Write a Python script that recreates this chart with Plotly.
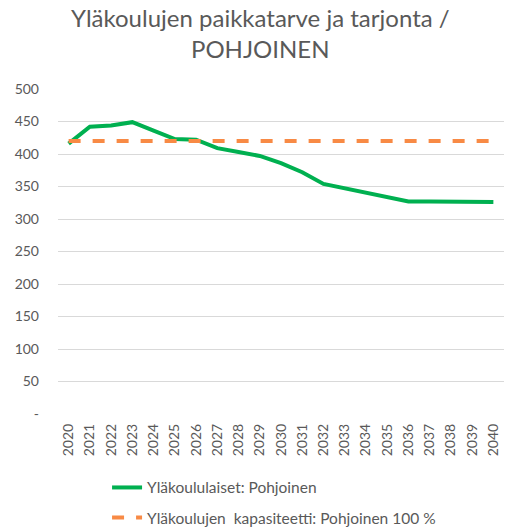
import plotly.graph_objects as go

years = [str(y) for y in range(2020, 2041)]
pupils = [416, 442, 444, 449, 436, 423, 422, 409, 403, 397, 386, 372, 354, 347, 341, 333, 327, 327, 327, 327, 326]
capacity = [420] * 21
y_ticks = [0, 50, 100, 150, 200, 250, 300, 350, 400, 450, 500]
y_tick_text = ["-", "50", "100", "150", "200", "250", "300", "350", "400", "450", "500"]
title_lines = ["Yläkoulujen paikkatarve ja tarjonta /", "POHJOINEN"]

FONT = "Lato"
GREY = "#595959"

fig = go.Figure()
fig.add_trace(go.Scatter(
    x=years, y=pupils, mode="lines", name="Yläkoululaiset: Pohjoinen",
    line=dict(color="#00B050", width=4), legendgroup="a"))
fig.add_trace(go.Scatter(
    x=years, y=capacity, mode="lines", name="Yläkoulujen  kapasiteetti: Pohjoinen 100 %",
    line=dict(color="#F88A45", width=4, dash="dash"), legendgroup="b"))

for line, ypos in zip(title_lines, [1.2185, 1.126]):
    fig.add_annotation(text=line, xref="paper", yref="paper", x=0.455, y=ypos,
                       xanchor="center", yanchor="middle", showarrow=False,
                       font=dict(size=24, color=GREY, family=FONT))

fig.update_layout(
    width=505, height=527,
    margin=dict(l=58, r=1, t=89, b=113, autoexpand=False),
    paper_bgcolor="white", plot_bgcolor="white",
    font=dict(family=FONT, color=GREY, size=14),
    showlegend=True,
    legend=dict(orientation="v", x=0.11, xanchor="left", y=-0.175, yanchor="top",
                font=dict(size=15.5, color=GREY), tracegroupgap=7,
                bgcolor="rgba(0,0,0,0)"),
    xaxis=dict(type="category", range=[-0.5, 20.5], tickangle=-90,
               showgrid=False, showline=False, ticks="", automargin=False,
               ticklabelstandoff=6,
               tickfont=dict(size=14, color=GREY)),
    yaxis=dict(range=[0, 500], tickvals=y_ticks, ticktext=y_tick_text,
               showgrid=True, gridcolor="#D9D9D9", gridwidth=1,
               zeroline=False, showline=False, ticks="", automargin=False,
               ticklabelstandoff=18,
               tickfont=dict(size=14, color=GREY)),
)

fig.write_html("out.html", config={"displayModeBar": False},
               post_script="document.body.style.margin='0';document.body.style.overflow='hidden';")
